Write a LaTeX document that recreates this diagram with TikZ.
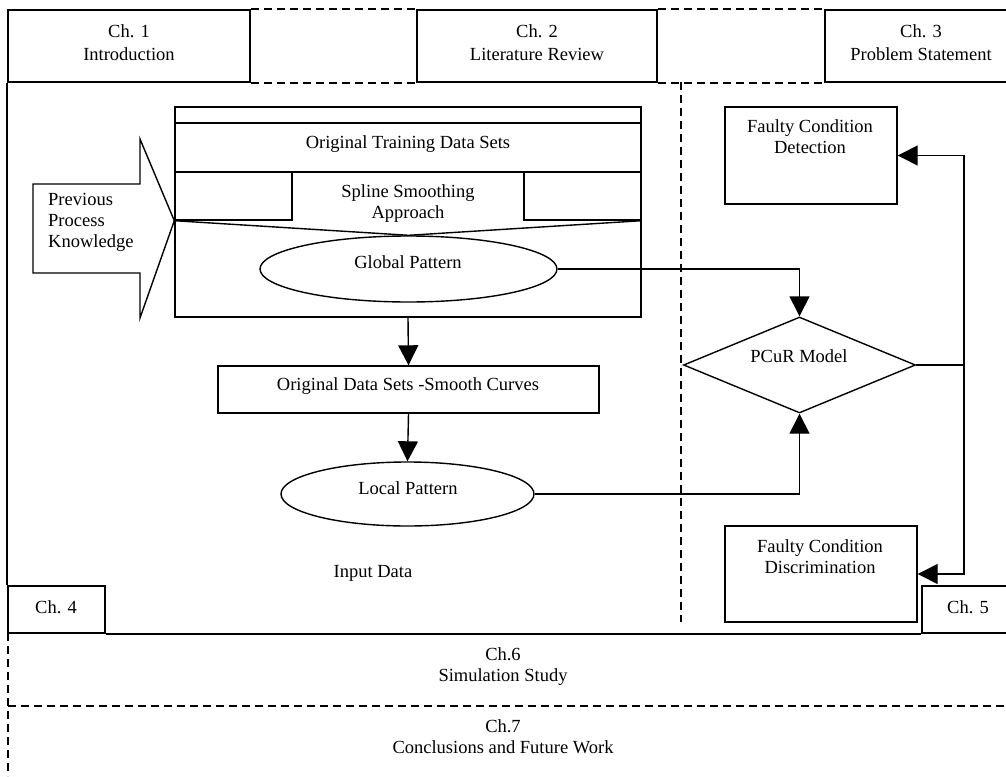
\documentclass[tikz,border=0pt]{standalone}
\usepackage{fontspec}
\setmainfont{Liberation Serif}
\usetikzlibrary{arrows.meta,shapes.geometric}
\begin{document}
\begin{tikzpicture}[x=1pt,y=-1pt,
  font=\fontsize{18.5}{21}\selectfont,
  box/.style={draw,line width=1.4pt,rectangle,inner sep=0pt},
  chbox/.style={draw,line width=1.8pt,rectangle,inner sep=0pt},
  ell/.style={draw,line width=1.4pt,ellipse,inner sep=0pt},
  dia/.style={draw,line width=1.4pt,diamond,inner sep=0pt},
  shp/.style={line width=1.4pt},
  dsh/.style={line width=1.6pt,dash pattern=on 8pt off 5pt},
  arr/.style={line width=1.4pt,-{Triangle[length=20pt,width=20pt]}},
  txt/.style={inner sep=0pt,align=center,anchor=base},
  ltxt/.style={inner sep=0pt,align=left,anchor=base west}
]
\useasboundingbox (0,0) rectangle (1006,776);

% chapter boxes
\node[chbox,minimum width=242pt,minimum height=72pt] (ch1) at (129,46) {};
\node[chbox,minimum width=240pt,minimum height=72pt] (ch2) at (537,46) {};
\node[chbox,minimum width=193pt,minimum height=72pt] (ch3) at (921.5,46) {};
\node[txt] (ch1t) at (129,61) {Ch. 1\\[3pt]Introduction};
\node[txt] (ch2t) at (537,61) {Ch. 2\\[3pt]Literature Review};
\node[txt] (ch3t) at (921,61) {Ch. 3\\[3pt]Problem Statement};

\draw[dsh] (ch1.north east) -- (ch2.north west);
\draw[dsh] (ch2.north east) -- (ch3.north west);
\draw[dsh] (ch1.south east) -- (ch2.south west);
\draw[dsh] (ch2.south east) -- (ch3.south west);

% chapter 4 / 5 frame
\node[box,line width=1.8pt,minimum width=97pt,minimum height=47pt] (ch4) at (56.5,609.5) {};
\node[txt] (ch4t) at (56,613) {Ch. 4};
\node[box,line width=1.8pt,minimum width=96pt,minimum height=47pt] (ch5) at (970,609.5) {};
\node[txt] (ch5t) at (968,613) {Ch. 5};

\coordinate (bl) at (8,633);
\coordinate (bb) at (8,776);
\coordinate (m6l) at (8,706);
\coordinate (m6r) at (1010,706);
\coordinate (vt) at (681,82);
\coordinate (vb) at (681,622);
\draw[line width=1.8pt] (ch1.south west) -- (ch4.north west);
\draw[line width=1.8pt] (ch4.south east) -- (ch5.south west);
\draw[dsh] (bl) -- (bb);
\draw[dsh] (m6l) -- (m6r);
\draw[dsh,line width=1.4pt] (vt) -- (vb);

\node[txt] (ch6t) at (503,681) {Ch.6\\Simulation Study};
\node[txt] (ch7t) at (503,753) {Ch.7\\Conclusions and Future Work};

% spline smoothing block
\node[box,minimum width=466pt,minimum height=210pt] (spl) at (408,212) {};
\node[box,minimum width=466pt,minimum height=49pt] (otd) at (408,147.5) {};
\node[txt] (otdt) at (408,148) {Original Training Data Sets};
\node[box,minimum width=117pt,minimum height=48pt] (sl) at (233.5,196) {};
\node[box,minimum width=117pt,minimum height=48pt] (sr) at (582.5,196) {};
\node[txt] (sst) at (408,218) {Spline Smoothing\\Approach};
\node[ell,minimum width=297pt,minimum height=66pt] (gp) at (408.5,269) {};
\node[txt] (gpt) at (408,268) {Global Pattern};
\draw[shp] (sl.south west) -- (gp.north) -- (sr.south east);

% previous process knowledge block arrow
\draw[shp] (33,184) -- (140,184) -- (140,139) -- (sl.south west) -- (140,318) -- (140,273) -- (33,273) -- cycle;
\node[ltxt] (ppk) at (48,247) {Previous\\Process\\Knowledge};

% data sets and local pattern
\node[box,minimum width=381pt,minimum height=47pt] (ods) at (408.5,389.5) {};
\node[txt] (odst) at (408,390) {Original Data Sets -Smooth Curves};
\node[ell,minimum width=253pt,minimum height=64pt] (lp) at (407.5,494) {};
\node[txt] (lpt) at (408,494) {Local Pattern};
\node[txt] (inp) at (373,577) {Input Data};

% PCuR model and outputs
\node[dia,minimum width=232pt,minimum height=96pt] (pcur) at (799.5,365) {};
\node[txt] (pcurt) at (799,362) {PCuR Model};
\node[box,minimum width=172pt,minimum height=97pt] (fdet) at (811,155.5) {};
\node[txt] (fdett) at (810,153) {Faulty Condition\\Detection};
\node[box,minimum width=192pt,minimum height=96pt] (fdis) at (821,574) {};
\node[txt] (fdist) at (820,573) {Faulty Condition\\Discrimination};

% connectors
\draw[arr] (spl.south) -- (ods.north);
\draw[arr] (ods.south) -- (lp.north);
\draw[arr] (gp.east) -| (pcur.north);
\draw[arr] (lp.east) -| (pcur.south);
\coordinate (jn) at (964,365);
\draw[shp] (pcur.east) -- (jn);
\draw[arr] (jn) |- (fdet.east);
\draw[arr] (jn) |- (fdis.east);
\end{tikzpicture}
\end{document}
